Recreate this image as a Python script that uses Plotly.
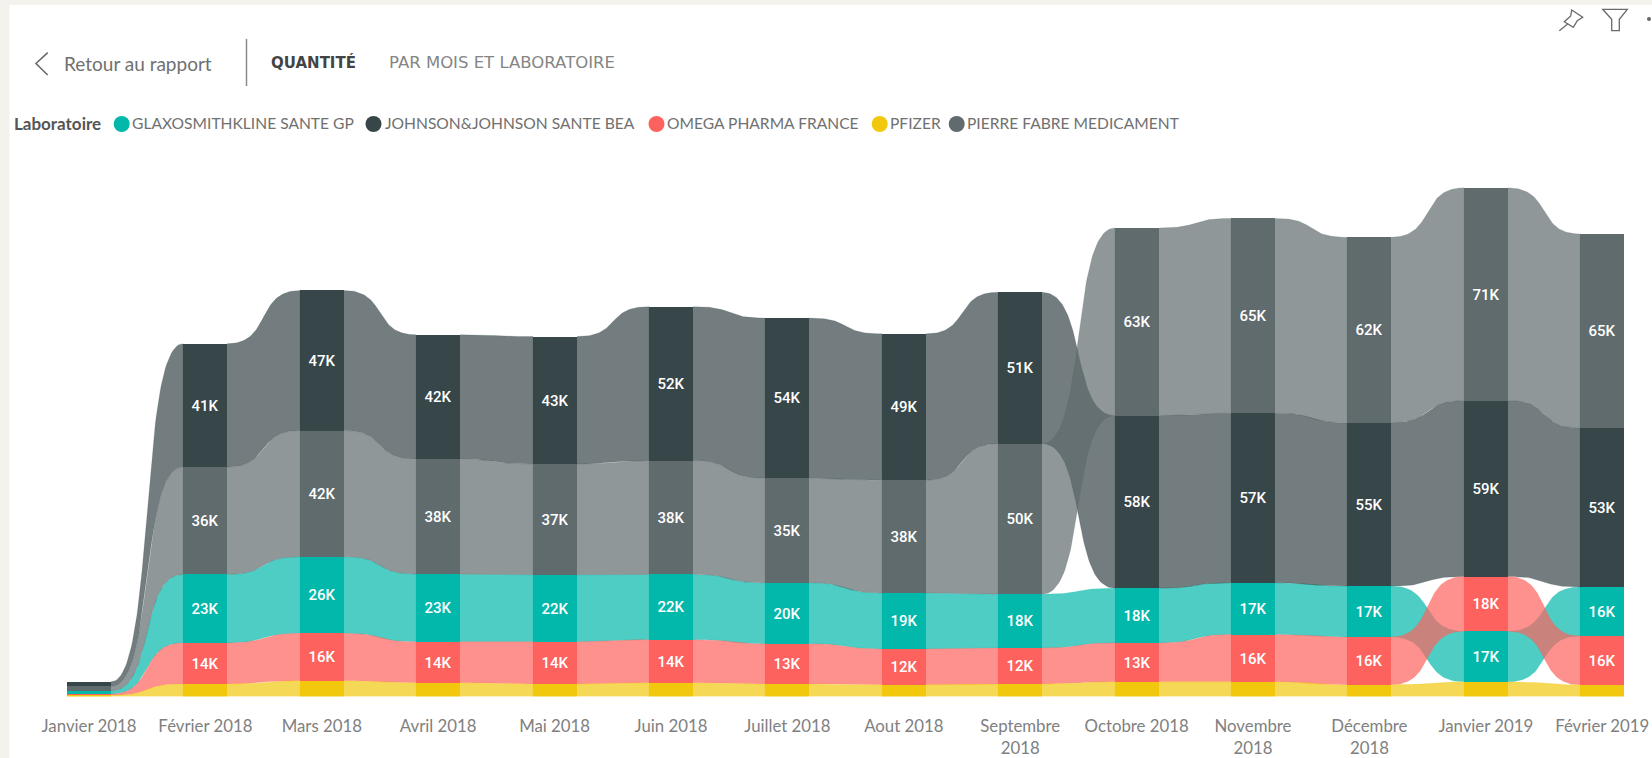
import numpy as np
import plotly.graph_objects as go

W, H = 1652, 758

months = ["Janvier 2018", "Février 2018", "Mars 2018", "Avril 2018", "Mai 2018", "Juin 2018",
          "Juillet 2018", "Aout 2018", "Septembre<br>2018", "Octobre 2018", "Novembre<br>2018",
          "Décembre<br>2018", "Janvier 2019", "Février 2019"]

labs = ["GLAXOSMITHKLINE SANTE GP", "JOHNSON&JOHNSON SANTE BEA", "OMEGA PHARMA FRANCE",
        "PFIZER", "PIERRE FABRE MEDICAMENT"]
colors = ["#01B8AA", "#374649", "#FD625E", "#F2C80F", "#5F6B6D"]

gsk = [1.0, 22.9, 25.6, 22.6, 22.4, 21.8, 20.4, 18.7, 18.0, 18.3, 17.3, 17.0, 16.9, 16.4]
jnj = [1.55, 41.2, 46.8, 41.6, 42.6, 51.5, 53.6, 48.9, 50.6, 57.7, 56.7, 54.6, 58.8, 53.2]
omega = [0.45, 13.7, 15.8, 13.7, 14.1, 14.4, 13.4, 12.0, 12.0, 13.0, 15.8, 16.0, 18.3, 16.3]
pfizer = [0.4, 4.2, 5.3, 4.6, 4.2, 4.6, 4.2, 3.9, 4.2, 4.9, 4.9, 3.9, 4.9, 3.9]
pierre = [1.5, 35.9, 42.2, 38.4, 37.0, 38.0, 34.9, 37.7, 50.3, 62.7, 65.1, 62.0, 71.1, 64.8]
series = [gsk, jnj, omega, pfizer, pierre]
MIN_LABEL = 6

vals = np.array(series, dtype=float)
n_lab, n_m = vals.shape

# ribbon ranking: in every month, the largest value sits on top
bottoms = np.zeros_like(vals)
for m in range(n_m):
    acc = 0.0
    for k in np.argsort(vals[:, m]):
        bottoms[k, m] = acc
        acc += vals[k, m]
tops = bottoms + vals

# layout of the axes in pixels
STEP, X0, BASE, PX_K, BAR_PX = 116.4, 89.0, 696.5, 2.992, 44.0
bw = BAR_PX / STEP


def rgba(hexc, a):
    return f"rgba({int(hexc[1:3],16)},{int(hexc[3:5],16)},{int(hexc[5:7],16)},{a})"


def snapped(v):
    # data position of the pixel column on which the bar edge lands
    return (round(X0 + v * STEP) - X0) / STEP


t = np.linspace(0, 1, 61)
CTRL = 0.62
bez_x = 3 * (1 - t) ** 2 * t * CTRL + 3 * (1 - t) * t ** 2 * (1 - CTRL) + t ** 3
bez_y = 3 * t ** 2 - 2 * t ** 3

fig = go.Figure()

for k in range(n_lab):
    xs, ys = [], []
    for m in range(n_m - 1):
        left, right = snapped(m + bw / 2), snapped(m + 1 - bw / 2)
        x = left + bez_x * (right - left)
        top = tops[k, m] + bez_y * (tops[k, m + 1] - tops[k, m])
        bot = bottoms[k, m] + bez_y * (bottoms[k, m + 1] - bottoms[k, m])
        xs += list(x) + list(x[::-1]) + [None]
        ys += list(top) + list(bot[::-1]) + [None]
    fig.add_trace(go.Scatter(x=xs, y=ys, mode="lines", fill="toself", fillcolor=rgba(colors[k], 0.7),
                             line=dict(width=0.5, color=rgba(colors[k], 0.35)),
                             hoverinfo="skip", showlegend=False, name=labs[k]))

for k in range(n_lab):
    fig.add_trace(go.Bar(
        x=list(range(n_m)), y=vals[k], base=bottoms[k], width=bw, name=labs[k],
        marker=dict(color=colors[k], line=dict(width=0)), showlegend=False,
        text=[f"{round(v)}K" if v >= MIN_LABEL else "" for v in vals[k]],
        textposition="inside", insidetextanchor="middle", textangle=0,
        textfont=dict(family="Roboto", size=15, color="white", weight=500),
        hovertemplate="%{x}<br>" + labs[k] + ": %{y:.1f}K<extra></extra>"))


def px(x):
    return x / W


def py(y):
    return 1 - y / H


shapes = [dict(type="rect", xref="paper", yref="paper", x0=px(9.5), x1=1, y0=0, y1=py(5),
               fillcolor="white", line_width=0, layer="below"),
          dict(type="line", xref="paper", yref="paper", x0=px(246.5), x1=px(246.5), y0=py(39), y1=py(86),
               line=dict(color="#8a8a8a", width=1.5))]


def poly(points, color="#6a6a6a", width=1.3, close=False):
    d = "M " + " L ".join(f"{px(a):.5f} {py(b):.5f}" for a, b in points) + (" Z" if close else "")
    return dict(type="path", xref="paper", yref="paper", path=d, line=dict(color=color, width=width))


shapes.append(poly([(47.7, 52.7), (36, 63.5), (47.7, 75)], width=1.6))
shapes.append(poly([(1571.7, 10), (1582.7, 17.3), (1577.3, 20.7), (1573.3, 27.3), (1564.3, 21.7), (1570.7, 16)], close=True))
shapes.append(poly([(1559.3, 30.7), (1567.7, 24)]))
shapes.append(poly([(1602.7, 9.3), (1627.3, 9.3), (1619.3, 19.3), (1619.3, 30.7), (1611.7, 30.7), (1611.7, 19.3)], close=True))
shapes.append(dict(type="circle", xref="paper", yref="paper", x0=px(1647), x1=px(1651), y0=py(21), y1=py(17),
                   fillcolor="#666666", line_width=0))

legend_circles = [121.7, 373.5, 656.5, 879.7, 956.7]
legend_text = [130.3, 383.2, 665.0, 887.5, 965.2]
LEG_Y = 124
for cx, c in zip(legend_circles, colors):
    shapes.append(dict(type="circle", xref="paper", yref="paper", x0=px(cx - 8), x1=px(cx + 8),
                       y0=py(LEG_Y + 8), y1=py(LEG_Y - 8), fillcolor=c, line_width=0))


def label(x, y, text, size, color, family="Lato", weight=400):
    return dict(xref="paper", yref="paper", x=px(x), y=py(y), text=text, showarrow=False,
                xanchor="left", yanchor="middle", align="left",
                font=dict(family=family, size=size, color=color, weight=weight))


annotations = [
    label(61.5, 64, "Retour au rapport", 19, "#707070"),
    label(269, 62, "QUANTITÉ", 15, "#444444", family="DejaVu Sans", weight=700),
    label(387, 62, "PAR MOIS ET LABORATOIRE", 16.5, "#858585", family="DejaVu Sans"),
    label(12, 123, "Laboratoire", 17, "#555555", weight=700),
]
for x, name in zip(legend_text, labs):
    annotations.append(label(x, 123, name.replace("&", "&amp;"), 15.6, "#707070"))

fig.update_layout(
    width=W, height=H, margin=dict(l=0, r=0, t=0, b=0, pad=0), autosize=False,
    paper_bgcolor="#F4F2EC", plot_bgcolor="rgba(0,0,0,0)",
    barmode="overlay", bargap=0, showlegend=False, shapes=shapes, annotations=annotations,
    xaxis=dict(domain=[0, 1], range=[-X0 / STEP, (W - X0) / STEP], tickmode="array",
               tickvals=list(range(n_m)), ticktext=months, showgrid=False, zeroline=False,
               showline=False, ticks="outside", ticklen=14, tickcolor="rgba(0,0,0,0)",
               tickfont=dict(family="Lato", size=16.8, color="#808080"), automargin=False),
    yaxis=dict(domain=[py(BASE), 1], range=[0, BASE / PX_K], visible=False, automargin=False),
)

fig.write_html("out.html", config=dict(displayModeBar=False),
               post_script="document.body.style.margin='0';document.body.style.overflow='hidden';")
